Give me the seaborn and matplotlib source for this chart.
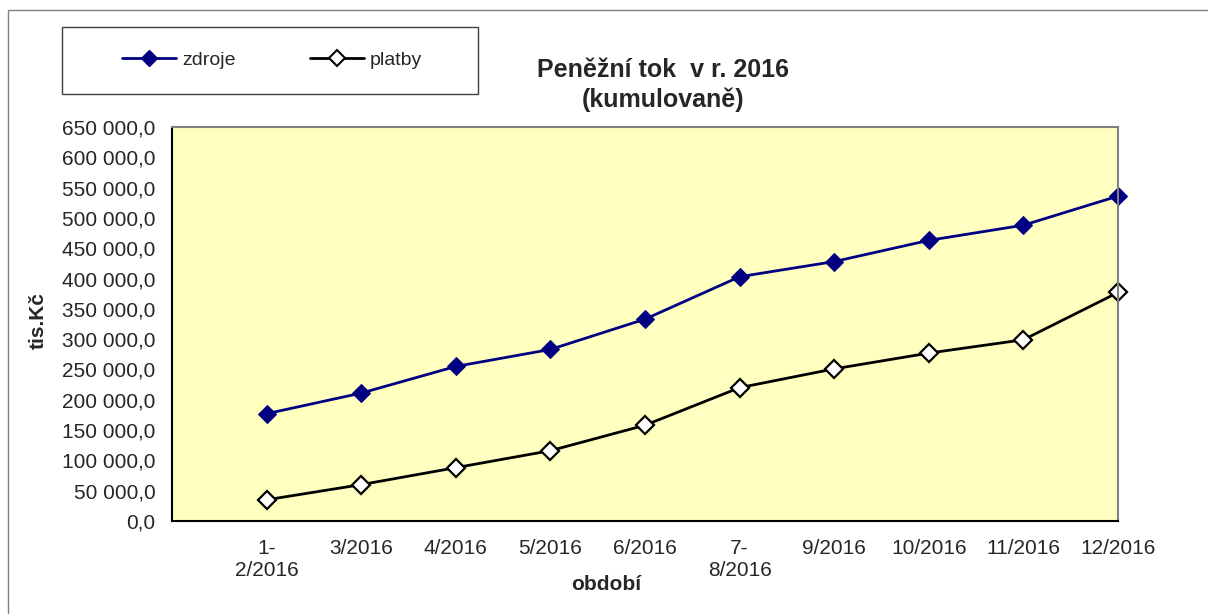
import numpy as np
import pandas as pd
import matplotlib
matplotlib.use("Agg")
import matplotlib.pyplot as plt
import seaborn as sns
from matplotlib.ticker import FuncFormatter, MultipleLocator
from matplotlib.lines import Line2D
from matplotlib.patches import Rectangle

# data (tis. Kč, cumulative)
periods = ["1-\n2/2016", "3/2016", "4/2016", "5/2016", "6/2016",
           "7-\n8/2016", "9/2016", "10/2016", "11/2016", "12/2016"]
zdroje = [177000, 211000, 255000, 283000, 333000, 403000, 428000, 463000, 488000, 536000]
platby = [35000, 60000, 88000, 116000, 158000, 220000, 251000, 277000, 299000, 377000]

df = pd.DataFrame({"pos": np.arange(len(periods)), "zdroje": zdroje, "platby": platby})

sns.set_theme(style="white")
plt.rcParams["font.family"] = ["Liberation Sans", "DejaVu Sans"]

fig = plt.figure(figsize=(12.08, 6.14), dpi=100)
ax = fig.add_axes([172 / 1208, 93 / 614, 946 / 1208, 394 / 614])
ax.set_facecolor("#FFFFC0")

sns.lineplot(data=df, x="pos", y="zdroje", ax=ax, color="#000080", lw=2,
             marker="D", markersize=9, markeredgecolor="#000080", label="zdroje",
             clip_on=False)
sns.lineplot(data=df, x="pos", y="platby", ax=ax, color="black", lw=2,
             marker="D", markersize=9, markerfacecolor="white",
             markeredgecolor="black", markeredgewidth=1.6, label="platby",
             clip_on=False)
ax.get_legend().remove()

ax.set_xlim(-1, len(periods) - 1)
ax.set_ylim(0, 650000)
ax.yaxis.set_major_locator(MultipleLocator(50000))
ax.yaxis.set_major_formatter(FuncFormatter(
    lambda v, p: f"{v:,.1f}".replace(",", " ").replace(".", ",")))

ax.set_xticks(np.arange(-1, len(periods)))
ax.set_xticklabels([""] + periods)
ax.tick_params(axis="x", direction="out", length=6, width=1, color="black",
               labelsize=15, pad=7)
ax.tick_params(axis="y", direction="inout", length=10, width=1, color="black",
               labelsize=15, pad=7)
ax.set_xlabel("")
ax.set_ylabel("")

for side in ["left", "bottom"]:
    ax.spines[side].set_color("black")
    ax.spines[side].set_linewidth(1.5)
for side in ["top", "right"]:
    ax.spines[side].set_color("#808080")
    ax.spines[side].set_linewidth(1.5)
    ax.spines[side].set_visible(True)

fig.text(663 / 1208, 1 - 70 / 614, "Peněžní tok  v r. 2016", ha="center", va="center",
         fontsize=18, fontweight="bold")
fig.text(663 / 1208, 1 - 100 / 614, "(kumulovaně)", ha="center", va="center",
         fontsize=18, fontweight="bold")
fig.text(38 / 1208, 1 - 321 / 614, "tis.Kč", rotation=90, ha="center", va="center",
         fontsize=15, fontweight="bold")
fig.text(606 / 1208, 1 - 585 / 614, "období", ha="center", va="center",
         fontsize=15, fontweight="bold")

# legend box
fig.patches.append(Rectangle((62 / 1208, 1 - 94 / 614), 416 / 1208, 67 / 614,
                             transform=fig.transFigure, fill=False,
                             edgecolor="#404040", lw=1))
handles = [
    Line2D([], [], color="#000080", lw=2, marker="D", markersize=8,
           markeredgecolor="#000080"),
    Line2D([], [], color="black", lw=2, marker="D", markersize=8,
           markerfacecolor="white", markeredgecolor="black", markeredgewidth=1.5),
]
fig.legend(handles, ["zdroje", "platby"], loc="center", ncol=2, frameon=False,
           bbox_to_anchor=(272 / 1208, 1 - 60 / 614), fontsize=14,
           handlelength=2.8, handletextpad=0.3, columnspacing=3.8)

# outer chart border
fig.patches.append(Rectangle((8 / 1208, -0.1), 1.2, 1 - 10 / 614 + 0.1,
                             transform=fig.transFigure, fill=False,
                             edgecolor="#808080", lw=1))

fig.savefig("out.png", dpi=100)
